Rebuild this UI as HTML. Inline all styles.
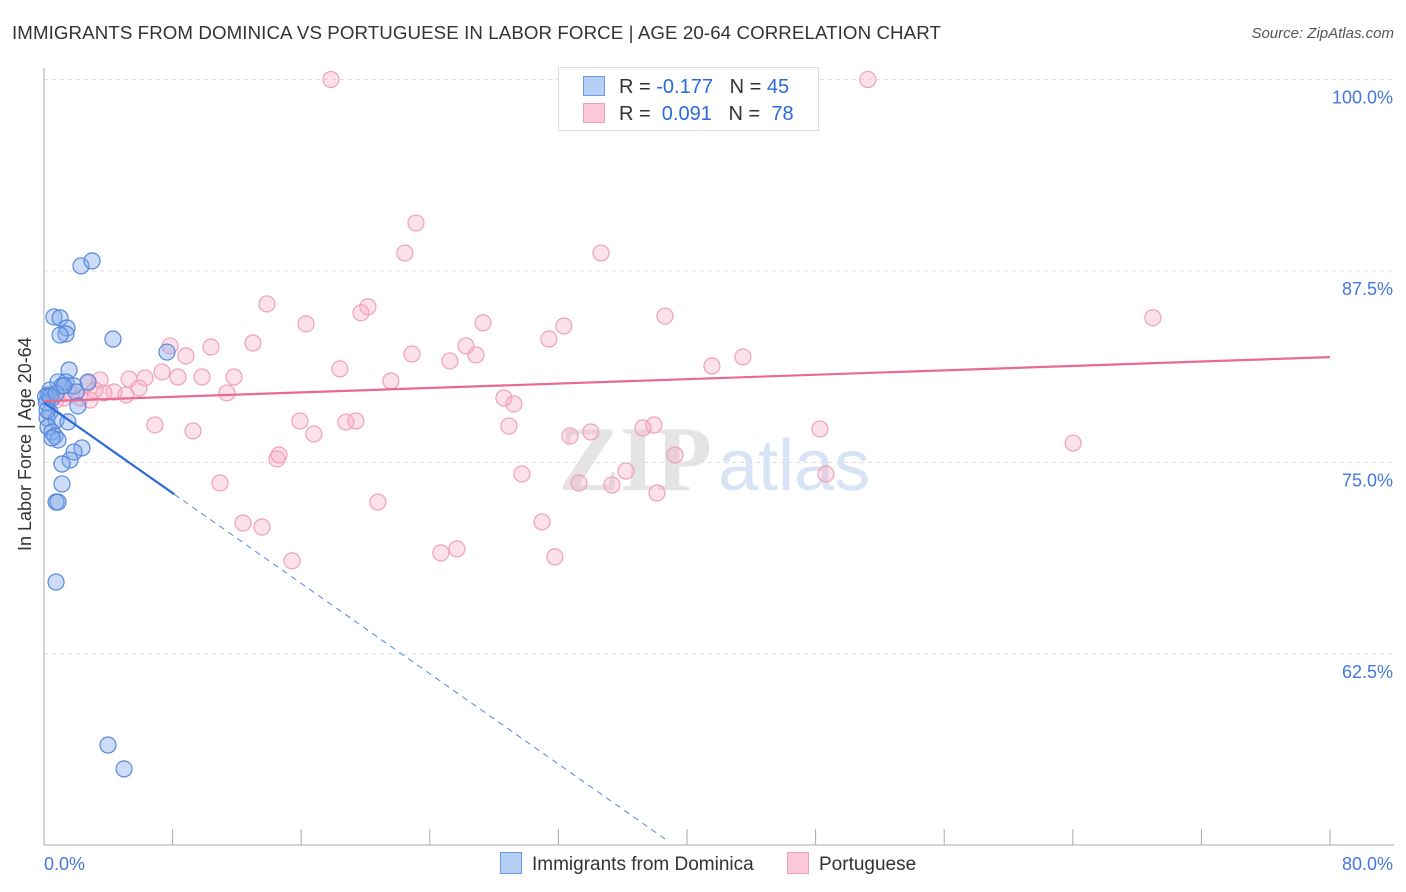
<!DOCTYPE html>
<html><head><meta charset="utf-8"><style>
body{margin:0;background:#fff;font-family:"Liberation Sans",sans-serif;}
#wrap{position:relative;width:1406px;height:892px;overflow:hidden}
.t{position:absolute;white-space:nowrap}
</style></head><body><div id="wrap">
<div class="t" style="left:12px;top:22px;font-size:18.7px;color:#333;letter-spacing:0.1px">IMMIGRANTS FROM DOMINICA VS PORTUGUESE IN LABOR FORCE | AGE 20-64 CORRELATION CHART</div>
<div class="t" style="right:12px;top:25px;font-size:15px;color:#555;font-style:italic">Source: ZipAtlas.com</div>
<div class="t" style="left:-70px;top:446px;transform:rotate(-90deg);font-size:18px;color:#333;width:190px;text-align:center;line-height:20px">In Labor Force | Age 20-64</div>
<svg id="svg" width="1406" height="892" style="position:absolute;left:0;top:0"></svg>
</div>
<script>
const blueX=[2.30,2.99,0.62,1.00,1.43,1.37,1.00,4.29,7.65,1.56,0.87,1.37,2.74,1.87,1.12,0.37,1.99,0.25,0.50,2.11,0.37,0.19,0.75,1.49,2.36,0.25,0.50,0.68,0.87,0.50,1.87,1.62,1.12,1.12,0.75,0.87,0.75,3.98,4.98,0.10,0.15,0.37,0.75,1.24,0.19];
const blueY=[87.83,88.16,84.50,84.44,83.78,83.39,83.32,83.06,82.21,81.04,80.26,80.26,80.26,80.00,80.00,79.73,79.60,79.41,79.21,78.69,78.30,77.91,77.78,77.65,75.95,77.32,76.99,76.73,76.47,76.60,75.69,75.16,74.90,73.60,72.42,72.42,67.20,56.56,55.00,79.30,78.90,79.30,79.50,80.00,78.40];
const pinkX=[17.85,51.25,23.14,22.45,34.65,13.87,68.98,16.30,20.15,19.72,27.31,38.63,32.34,13.00,7.84,10.39,26.25,31.41,22.89,26.87,25.25,8.83,43.48,41.55,18.41,7.34,5.29,8.33,9.83,11.82,6.28,21.58,2.74,3.48,5.91,4.35,3.73,5.10,3.17,11.38,2.24,28.61,29.23,0.75,15.92,18.78,19.40,6.90,9.27,16.79,28.92,32.72,34.02,37.26,37.94,48.27,64.02,14.62,14.49,39.25,29.73,36.20,48.64,10.95,33.28,35.33,38.13,20.77,12.38,13.56,30.98,24.69,25.69,31.78,15.43,1.24,1.74,2.86];
const pinkY=[100,100,90.63,88.67,88.67,85.35,84.45,84.05,85.16,84.77,84.12,84.56,83.91,82.80,82.61,82.54,82.61,83.06,82.08,82.02,81.63,81.96,81.89,81.30,81.11,80.91,80.45,80.58,80.58,80.58,80.52,80.32,80.19,80.39,79.86,79.60,79.54,79.41,79.73,79.54,79.21,79.21,78.82,79.08,77.71,77.64,77.71,77.45,77.06,76.86,77.38,76.73,76.99,77.25,77.45,77.19,76.27,75.49,75.23,75.49,74.25,74.44,74.25,73.66,73.66,73.53,73.01,72.42,71.05,70.79,71.12,69.10,69.36,68.84,68.58,79.21,79.47,79.08];
const yTicks=[100,87.5,75,62.5];
const yTickLabels=["100.0%","87.5%","75.0%","62.5%"];
const xEnds=["0.0%","80.0%"];
const blueTrend=[78.9,-0.737]; const pinkTrend=[79.0,0.036];
const X=v=>44+v/80*1286, Y=v=>79.5+(100-v)/12.5*191.5;
const svg=document.getElementById('svg'),NS='http://www.w3.org/2000/svg';
function mk(t,a,p){const e=document.createElementNS(NS,t);for(const k in a)e.setAttribute(k,a[k]);(p||svg).appendChild(e);return e;}
yTicks.forEach((v,i)=>{
 const g=mk('line',{x1:44,x2:1394,y1:Y(v),y2:Y(v),stroke:'#ddd','stroke-dasharray':'4,4'});
 
 
 const t=mk('text',{x:1393,y:Y(v)+24,'text-anchor':'end','font-size':18,fill:'#4477dd','font-family':'Liberation Sans'});
 t.textContent=yTickLabels[i];
 
 
});
let ax=mk('line',{x1:44,x2:44,y1:68,y2:845,stroke:'#aaa'});
ax=mk('line',{x1:44,x2:1394,y1:845,y2:845,stroke:'#aaa'});
for(let i=1;i<=10;i++){const tk=mk('line',{x1:X(i*8),x2:X(i*8),y1:829,y2:845,stroke:'#aaa'});}
[[X(0),'start',xEnds[0]],[1393,'end',xEnds[1]]].forEach(d=>{const t=mk('text',{x:d[0],y:870,'text-anchor':d[1],'font-size':18,fill:'#4477dd','font-family':'Liberation Sans'});t.textContent=d[2];});
let wm=mk('text',{x:712,y:490,'text-anchor':'end','font-size':92,fill:'#e4e4e4','font-family':'Liberation Serif','font-weight':'bold'});wm.textContent='ZIP';
wm=mk('text',{x:718,y:490,'font-size':72,fill:'#d8e4f5','font-family':'Liberation Sans'});wm.textContent='atlas';
pinkX.forEach((v,i)=>{const c=mk('circle',{cx:X(v),cy:Y(pinkY[i]),r:8,fill:'rgba(248,170,195,0.35)',stroke:'#f0a0ba','stroke-width':1.2});});
blueX.forEach((v,i)=>{const c=mk('circle',{cx:X(v),cy:Y(blueY[i]),r:8,fill:'rgba(130,170,235,0.4)',stroke:'#5588dd','stroke-width':1.2});});
let tl=mk('line',{x1:X(0),y1:Y(pinkTrend[0]),x2:X(80),y2:Y(pinkTrend[0]+80*pinkTrend[1]),stroke:'#e86a93','stroke-width':2.2});
tl=mk('line',{x1:X(0),y1:Y(blueTrend[0]),x2:X(8.1),y2:Y(blueTrend[0]+8.1*blueTrend[1]),stroke:'#2a6bd8','stroke-width':2.2});
const xe=(blueTrend[0]-50.3)/-blueTrend[1];
tl=mk('line',{x1:X(8.1),y1:Y(blueTrend[0]+8.1*blueTrend[1]),x2:X(xe),y2:Y(50.3),stroke:'#5588dd','stroke-width':1,'stroke-dasharray':'6,5'});
</script>
<div style="position:absolute;left:558px;top:67px;width:259px;height:62px;border:1px solid #ddd;background:#fff;font-size:20px;color:#333">
 <div style="position:absolute;left:26px;top:8px;white-space:nowrap"><span style="display:inline-block;width:20px;height:18px;background:#b6cff4;border:1px solid #6d9ae0;vertical-align:-3px;margin-right:12px;position:relative;left:-2px"></span>R = <span style="color:#2a6bd8">-0.177</span>&nbsp;&nbsp;&nbsp;N = <span style="color:#2a6bd8">45</span></div>
 <div style="position:absolute;left:26px;top:35px;white-space:nowrap"><span style="display:inline-block;width:20px;height:18px;background:#fbc8d8;border:1px solid #f0a0ba;vertical-align:-3px;margin-right:12px;position:relative;left:-2px"></span>R = &nbsp;<span style="color:#2a6bd8">0.091</span>&nbsp;&nbsp;&nbsp;N = &nbsp;<span style="color:#2a6bd8">78</span></div>
</div>
<div style="position:absolute;left:500px;top:852px;font-size:19px;color:#333;white-space:nowrap">
 <span><span style="display:inline-block;width:20px;height:20px;background:#b6cff4;border:1px solid #6d9ae0;vertical-align:-4px;margin-right:10px"></span>Immigrants from Dominica</span>
 <span style="margin-left:28px"><span style="display:inline-block;width:20px;height:20px;background:#fbc8d8;border:1px solid #f0a0ba;vertical-align:-4px;margin-right:10px"></span>Portuguese</span>
</div>
</body></html>
